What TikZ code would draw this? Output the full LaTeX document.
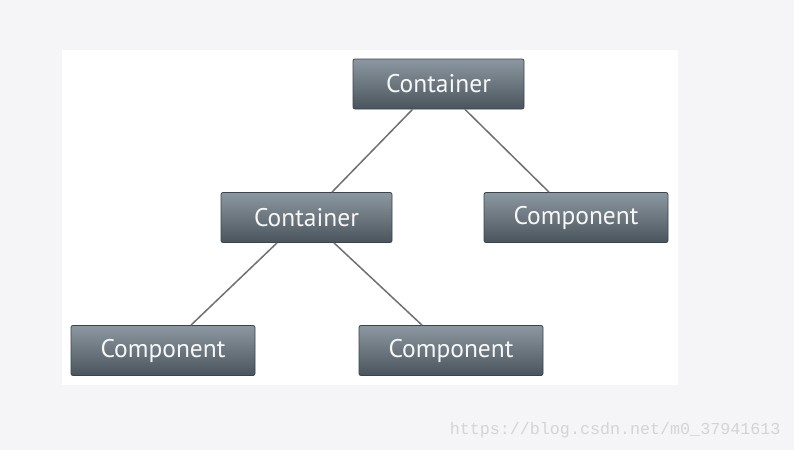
\documentclass[tikz,border=0pt]{standalone}
\usepackage{fontspec}
\setmainfont{PT Sans}
\newfontfamily\wmfont{Liberation Mono}
\definecolor{bg}{RGB}{245,244,247}
\definecolor{boxtop}{RGB}{140,152,161}
\definecolor{boxbot}{RGB}{74,84,92}
\definecolor{boxline}{RGB}{60,68,75}
\definecolor{edge}{RGB}{110,112,114}
\definecolor{wm}{RGB}{214,211,212}
\begin{document}
\begin{tikzpicture}[x=1pt,y=-1pt,
  box/.style={draw=boxline, line width=0.8pt, rounded corners=2pt,
    top color=boxtop, bottom color=boxbot, text=white!94!gray,
    inner sep=0pt, font=\fontsize{25.5}{25.5}\selectfont},
  conbox/.style={box, minimum width=171pt, minimum height=50pt},
  compbox/.style={box, minimum width=184pt, minimum height=50pt},
  link/.style={draw=edge, line width=1.5pt}]
\fill[bg] (0,0) rectangle (794,450);
\useasboundingbox (0,0) rectangle (794,450);
\fill[white] (62,50) rectangle (678,385);
\node[conbox] (top) at (438.5,84) {Container};
\node[conbox] (mid) at (306.5,217.5) {Container};
\node[compbox] (right) at (576,217.5) {Component};
\node[compbox] (bl) at (163,350.5) {Component};
\node[compbox] (bm) at (451,350.5) {Component};
\draw[link] ([xshift=-26pt]top.south) -- ([xshift=25.5pt]mid.north);
\draw[link] ([xshift=26.5pt]top.south) -- ([xshift=-27pt]right.north);
\draw[link] ([xshift=-29.5pt]mid.south) -- ([xshift=28pt]bl.north);
\draw[link] ([xshift=27.5pt]mid.south) -- ([xshift=-29pt]bm.north);
\node[text=wm, font=\wmfont\fontsize{16.7}{16.7}\selectfont, anchor=east] (wmark) at (784,430) {https://blog.csdn.net/m0\_37941613};
\end{tikzpicture}
\end{document}
